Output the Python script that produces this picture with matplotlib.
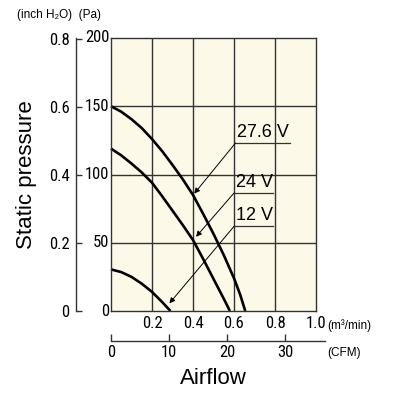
import matplotlib
matplotlib.use("Agg")
import matplotlib.pyplot as plt

# ---- data ----
flow_276 = [0.0, 0.05, 0.10, 0.15, 0.20, 0.25, 0.30, 0.35, 0.40, 0.45, 0.50, 0.55, 0.60, 0.63, 0.655]
pres_276 = [150, 146, 140.5, 134, 126, 117, 107, 96.5, 85, 71, 56.5, 41, 24, 12, 0]
flow_24 = [0.0, 0.05, 0.10, 0.15, 0.20, 0.25, 0.30, 0.35, 0.40, 0.45, 0.50, 0.55, 0.58]
pres_24 = [119, 114, 108, 101.5, 94, 84, 73.5, 63, 52, 38, 23.5, 9, 0]
flow_12 = [0.0, 0.05, 0.10, 0.15, 0.20, 0.25, 0.29]
pres_12 = [30.5, 28.5, 25, 20, 14, 6.5, 0]

labels = ["27.6 V", "24 V", "12 V"]
label_pos = [(0.607, 123), (0.600, 86.4), (0.600, 62)]
underline_len = [0.268, 0.19, 0.19]
arrow_tip = [(0.406, 86), (0.415, 54.4), (0.285, 5.6)]

pa_ticks = [0, 50, 100, 150, 200]
inch_ticks = [0, 0.2, 0.4, 0.6, 0.8]
m3_ticks = [0.2, 0.4, 0.6, 0.8, 1.0]
cfm_ticks = [0, 10, 20, 30]

PA_PER_INCH = 249.0889
M3_PER_CFM = 0.0283168

narrow = ["Roboto Condensed", "Liberation Sans", "DejaVu Sans"]
reg = ["Liberation Sans", "DejaVu Sans"]
plt.rcParams["font.family"] = reg
NUM_FS = 12

W, H = 395, 396
fig = plt.figure(figsize=(W / 100, H / 100), dpi=100)

ax_l, ax_r, ax_t, ax_b = 111, 316, 38, 311
ax = fig.add_axes([ax_l / W, (H - ax_b) / H, (ax_r - ax_l) / W, (ax_b - ax_t) / H])
ax.set_facecolor("#fcf9e8")
ax.set_xlim(0, 1.0)
ax.set_ylim(0, 200)
gcol = "#333333"
for s in ax.spines.values():
    s.set_color(gcol)
    s.set_linewidth(1.0)
ax.set_xticks([0.2, 0.4, 0.6, 0.8])
ax.set_yticks([50, 100, 150])
ax.grid(True, color=gcol, linewidth=1.0)
ax.tick_params(length=0)
ax.set_xticklabels([])
ax.set_yticklabels([])

# tick labels for Pa
for v in pa_ticks:
    ax.text(-0.008, v, str(v), transform=ax.get_yaxis_transform(), ha="right",
            va="center", fontsize=NUM_FS, family=narrow)
# m3/min labels
for v in m3_ticks:
    ax.text(v, -0.018, f"{v:.1f}", transform=ax.get_xaxis_transform(), ha="center",
            va="top", fontsize=NUM_FS, family=narrow)
ax.text(1.053, -0.055, "(m³/min)", transform=ax.transAxes, ha="left", va="center",
        fontsize=8.5)

# curves
lw = 1.9
for fx, py in [(flow_276, pres_276), (flow_24, pres_24), (flow_12, pres_12)]:
    ax.plot(fx, py, color="black", lw=lw, clip_on=False, solid_capstyle="butt",
            solid_joinstyle="round")

# labels with underline and arrow
for lab, (lx, ly), ul, (tx, ty) in zip(labels, label_pos, underline_len, arrow_tip):
    ax.text(lx + 0.01, ly + 1.5, lab, ha="left", va="bottom", fontsize=13)
    ax.plot([lx, lx + ul], [ly, ly], color="#333333", lw=0.9)
    ax.annotate("", xy=(tx, ty), xytext=(lx, ly),
                arrowprops=dict(arrowstyle="-|>", color="black", lw=0.7,
                                mutation_scale=8, shrinkA=0, shrinkB=0))

# inch H2O axis
sec = ax.secondary_yaxis((76 - 111) / (ax_r - ax_l),
                         functions=(lambda p: p / PA_PER_INCH, lambda i: i * PA_PER_INCH))
sec.set_yticks(inch_ticks)
sec.set_yticklabels(["0" if v == 0 else f"{v:.1f}" for v in inch_ticks], family=narrow,
                    fontsize=NUM_FS)
sec.tick_params(direction="in", length=4.5, width=1.0, color=gcol, pad=4.5)
sec.spines["left"].set_color(gcol)
sec.spines["left"].set_linewidth(1.0)

# CFM axis
cfm_y = 341
cfm_right = 325
axc = fig.add_axes([ax_l / W, (H - cfm_y) / H, (cfm_right - ax_l) / W, 0.0001])
axc.set_xlim(0, (cfm_right - ax_l) / (ax_r - ax_l) / M3_PER_CFM)
axc.set_ylim(0, 1)
axc.patch.set_visible(False)
for k in ["left", "right", "top"]:
    axc.spines[k].set_visible(False)
axc.spines["bottom"].set_color(gcol)
axc.spines["bottom"].set_linewidth(1.0)
axc.set_yticks([])
axc.set_xticks(cfm_ticks)
axc.set_xticklabels([str(v) for v in cfm_ticks], family=narrow, fontsize=NUM_FS)
axc.tick_params(axis="x", direction="in", length=5, width=1.0, color=gcol, pad=3)
fig.text(327 / W, 1 - 353 / H, "(CFM)", ha="left", va="center", fontsize=8.5)

# titles
fig.text(17 / W, 1 - 15 / H, "(inch H₂O)  (Pa)", ha="left", va="center", fontsize=8.5,
         family=reg)
fig.text(27 / W, 1 - 175 / H, "Static pressure", rotation=90, ha="center", va="center",
         fontsize=16)
fig.text(213 / W, 1 - 379 / H, "Airflow", ha="center", va="center", fontsize=16)

fig.savefig("out.png", dpi=100, facecolor="white")
